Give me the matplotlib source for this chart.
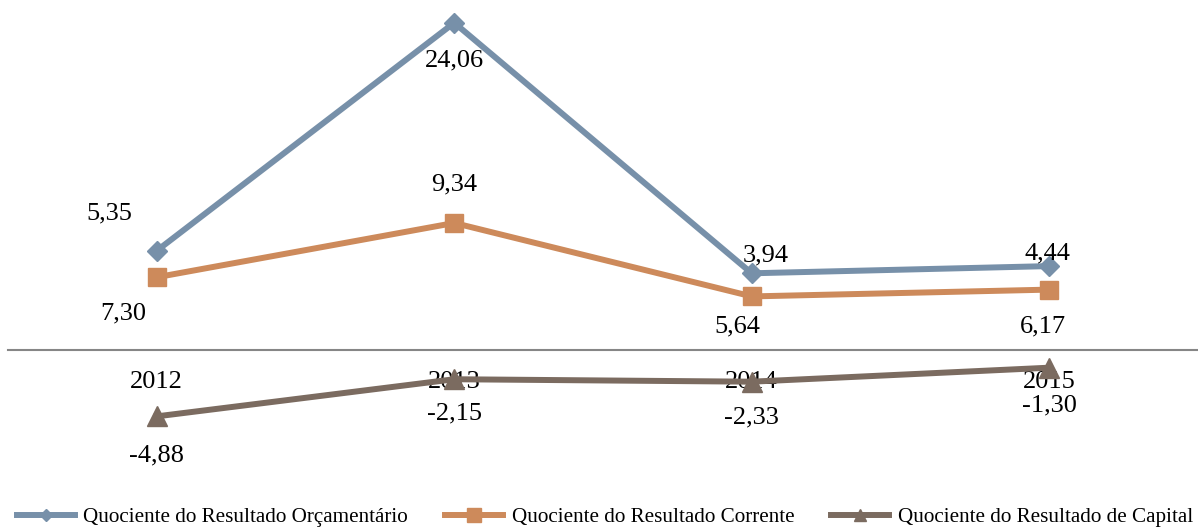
import matplotlib
matplotlib.use("Agg")
import matplotlib.pyplot as plt
from matplotlib.lines import Line2D

# ---- data ----
years = ["2012", "2013", "2014", "2015"]
orcamentario = [7.30, 24.06, 5.64, 6.17]
corrente = [5.35, 9.34, 3.94, 4.44]
capital = [-4.88, -2.15, -2.33, -1.30]

# labels as shown in the picture (attached to nearest marker)
orc_labels = ["5,35", "24,06", "3,94", "4,44"]
cor_labels = ["7,30", "9,34", "5,64", "6,17"]
cap_labels = ["-4,88", "-2,15", "-2,33", "-1,30"]

series_names = ["Quociente do Resultado Orçamentário",
                "Quociente do Resultado Corrente",
                "Quociente do Resultado de Capital"]

# ---- style ----
plt.rcParams['font.family'] = ['Liberation Serif', 'DejaVu Serif']
c_blue = "#7790A9"
c_orange = "#CD8A5B"
c_brown = "#7B6B60"
px = 72 / 100.0  # px -> points at dpi 100
LW = 4.3

fig = plt.figure(figsize=(11.98, 5.27), dpi=100)
ax = fig.add_axes([8 / 1198, (527 - 431.6) / 527, 1190 / 1198, 421.6 / 527])
x = list(range(len(years)))

ax.plot(x, orcamentario, color=c_blue, lw=LW, marker="D", ms=10, zorder=3)
ax.plot(x, corrente, color=c_orange, lw=LW, marker="s", ms=13.5, zorder=3)
ax.plot(x, capital, color=c_brown, lw=LW, marker="^", ms=14, zorder=3)

ax.set_xlim(-0.5, 3.5)
ax.set_ylim(-6, 25)
ax.set_yticks([])
for s in ["top", "right", "left"]:
    ax.spines[s].set_visible(False)
ax.spines["bottom"].set_position(("data", 0))
ax.spines["bottom"].set_color("#868686")
ax.spines["bottom"].set_linewidth(1.5)
ax.spines["bottom"].set_zorder(1)
ax.set_xticks(x)
ax.set_xticklabels(years, fontsize=19)
ax.tick_params(axis="x", length=0, pad=15)
for t in ax.get_xticklabels():
    t.set_zorder(1)

# label offsets in pixels (dx, dy downward)
orc_off = [(-47, -37.5), (0, 37.5), (14, -18), (-1.5, -12.7)]
cor_off = [(-34, 36), (0, -39), (-14.7, 30), (-6.5, 37)]
cap_off = [(0, 39), (0, 34), (0, 36), (0, 38)]

def annotate(vals, labels, offs):
    for xi, v, lab, (dx, dy) in zip(x, vals, labels, offs):
        ax.annotate(lab, (xi, v), xytext=(dx * px, -dy * px),
                    textcoords="offset points", ha="center", va="center",
                    fontsize=19, zorder=5)

annotate(orcamentario, orc_labels, orc_off)
annotate(corrente, cor_labels, cor_off)
annotate(capital, cap_labels, cap_off)

handles = [
    Line2D([], [], color=c_blue, lw=LW, marker="D", ms=6),
    Line2D([], [], color=c_orange, lw=LW, marker="s", ms=10),
    Line2D([], [], color=c_brown, lw=LW, marker="^", ms=9),
]
fig.legend(handles, series_names, loc="center", bbox_to_anchor=(605 / 1198, (527 - 517) / 527),
           ncol=3, frameon=False, fontsize=15.2, handlelength=2.75,
           handletextpad=0.4, columnspacing=1.75, borderaxespad=0, borderpad=0)

fig.savefig("out.png", dpi=100)
